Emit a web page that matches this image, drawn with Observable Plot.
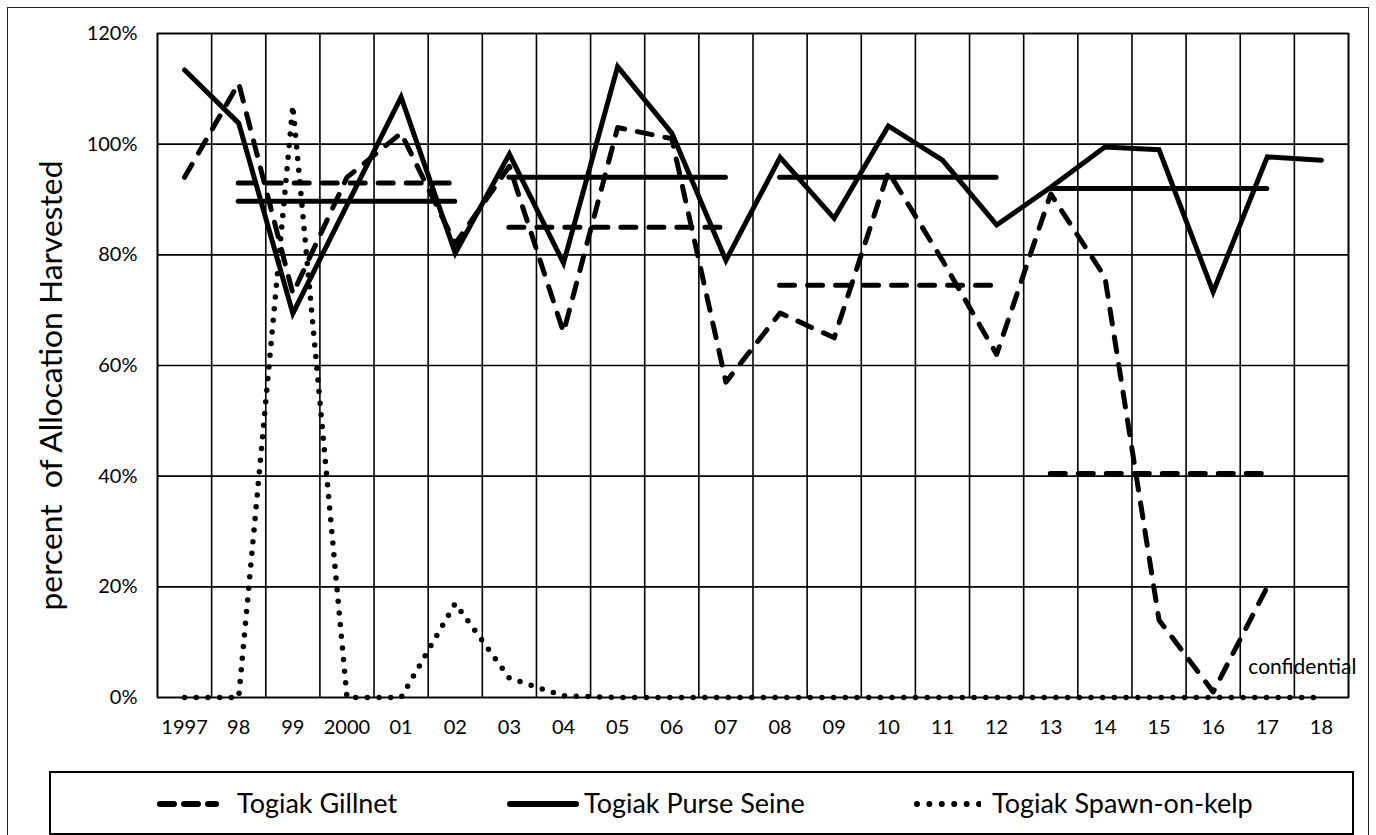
<!DOCTYPE html>
<html><head><meta charset="utf-8">
<script src="https://cdn.jsdelivr.net/npm/d3@7"></script>
<script src="https://cdn.jsdelivr.net/npm/@observablehq/plot@0.6"></script>
<style>
html,body{margin:0;padding:0;background:#fff;overflow:hidden;width:1376px;height:835px;font-family:Lato,"Open Sans",sans-serif;}
#frame{position:absolute;left:7px;top:7px;width:1362px;height:900px;border:1.5px solid #222;box-sizing:border-box;}
#chart{position:absolute;left:0;top:0;}
#legend{position:absolute;left:49px;top:771px;width:1305px;height:64px;border:2px solid #000;box-sizing:border-box;}
.sw{position:absolute;top:0;}
.lt{position:absolute;top:0;height:60px;line-height:60px;font-size:27px;color:#000;white-space:nowrap;}
</style></head><body>
<div id="frame"></div>
<div id="chart"></div>
<div id="legend"></div>
<script>
// ---- data ----
const years = [1997,1998,1999,2000,2001,2002,2003,2004,2005,2006,2007,2008,2009,2010,2011,2012,2013,2014,2015,2016,2017,2018];
const xLabels = ["1997","98","99","2000","01","02","03","04","05","06","07","08","09","10","11","12","13","14","15","16","17","18"];
const yTicks = [0,20,40,60,80,100,120];

// Togiak Gillnet, 1997-2017
const gillnet = [94,111,73,94,102,82,96,66,103,101,57,69.5,65,95,79,62,91,76,14,1,20];
// Togiak Purse Seine, 1997-2018
const purseSeine = [113.4,103.8,69.4,89,108.5,80.3,98.2,78.5,114,102,79,97.6,86.6,103.3,97.1,85.4,92.2,99.5,99,73.3,97.7,97.1];
// Togiak Spawn-on-kelp, 1997-2018
const spawnOnKelp = [0,0,107,0,0,17,3.5,0.3,0,0,0,0,0,0,0,0,0,0,0,0,0,0];

// five-year period averages
const periodStart = [1998,2003,2008,2013];
const periodEnd = [2002,2007,2012,2017];
const gillnetAvg = [93,85,74.5,40.5];
const purseAvg = [89.7,94,94,92];

const yLabel = "percent\u00a0\u00a0of Allocation Harvested";
const confidentialNote = {year: 2017, value: 0, label: "confidential"};

// ---- tables ----
const gillRows = gillnet.map((v,i)=>({year: years[i], value: v}));
const purseRows = purseSeine.map((v,i)=>({year: years[i], value: v}));
const spawnRows = spawnOnKelp.map((v,i)=>({year: years[i], value: v}));
const gillAvgRows = gillnetAvg.map((v,i)=>({start: periodStart[i], end: periodEnd[i], value: v}));
const purseAvgRows = purseAvg.map((v,i)=>({start: periodStart[i], end: periodEnd[i], value: v}));
const bandEdges = years.map(y=>y-0.5).concat([years[years.length-1]+0.5]);

const dash = "15,13";
const chart = Plot.plot({
  width: 1376, height: 760,
  marginLeft: 157, marginRight: 28, marginTop: 33, marginBottom: 63,
  style: {fontFamily: "Lato, 'Open Sans', sans-serif", fontSize: "20px", color: "#000", background: "transparent", overflow: "visible"},
  x: {type: "linear", domain: [bandEdges[0], bandEdges[bandEdges.length-1]]},
  y: {domain: [0, 120]},
  marks: [
    Plot.ruleY(yTicks, {stroke: "#000", strokeWidth: 1.6}),
    Plot.ruleX(bandEdges, {stroke: "#000", strokeWidth: 1.6}),
    Plot.frame({stroke: "#000", strokeWidth: 1.6}),
    Plot.axisY({ticks: yTicks, tickFormat: d => d + "%", tickSize: 0, tickPadding: 20, label: null, fill: "#000"}),
    Plot.axisX({ticks: years, tickFormat: d => xLabels[years.indexOf(d)], tickSize: 0, tickPadding: 22, label: null, fill: "#000"}),
    Plot.text([yLabel], {frameAnchor: "left", textAnchor: "middle", lineAnchor: "middle", rotate: -90, dx: -106, dy: 20, fontSize: 27, fill: "#000"}),
    // spawn-on-kelp
    Plot.line(spawnRows, {x: "year", y: "value", stroke: "#000", strokeWidth: 5.5, strokeDasharray: "0,11.7", strokeLinecap: "round"}),
    // averages
    Plot.ruleY(gillAvgRows, {x1: "start", x2: "end", y: "value", stroke: "#000", strokeWidth: 5, strokeDasharray: dash, strokeLinecap: "round"}),
    Plot.ruleY(purseAvgRows, {x1: "start", x2: "end", y: "value", stroke: "#000", strokeWidth: 5, strokeLinecap: "round"}),
    // gillnet
    Plot.line(gillRows, {x: "year", y: "value", stroke: "#000", strokeWidth: 5, strokeDasharray: dash, strokeLinecap: "round", strokeLinejoin: "round"}),
    // purse seine
    Plot.line(purseRows, {x: "year", y: "value", stroke: "#000", strokeWidth: 5, strokeLinejoin: "miter", strokeMiterlimit: 10, strokeLinecap: "round"}),
    Plot.text([confidentialNote], {x: "year", y: "value", text: "label", textAnchor: "start", dx: -19, dy: -30, fontSize: 21, fill: "#000"})
  ]
});
document.getElementById("chart").appendChild(chart);
// size the rotated y label so it spans the same length as in the original
chart.querySelectorAll("text").forEach(t => {
  if (t.textContent.startsWith("percent")) {
    const len = t.getComputedTextLength();
    if (len > 0) t.setAttribute("font-size", (27 * 450 / len).toFixed(2));
  }
});

// ---- legend ----
const legendItems = [
  {label: "Togiak Gillnet", kind: "dash", swLeft: 106, swWidth: 62, textLeft: 186},
  {label: "Togiak Purse Seine", kind: "solid", swLeft: 456, swWidth: 72, textLeft: 533},
  {label: "Togiak Spawn-on-kelp", kind: "dot", swLeft: 862, swWidth: 68, textLeft: 941}
];
const legend = d3.select("#legend");
legendItems.forEach(it => {
  const svg = legend.append("svg").attr("class", "sw").style("left", it.swLeft + "px").attr("width", it.swWidth).attr("height", 60);
  const cy = 31;
  if (it.kind === "dash") {
    svg.append("line").attr("x1", 3).attr("x2", it.swWidth - 3).attr("y1", cy).attr("y2", cy)
      .attr("stroke", "#000").attr("stroke-width", 6).attr("stroke-linecap", "round").attr("stroke-dasharray", "14,10");
  } else if (it.kind === "solid") {
    svg.append("line").attr("x1", 3).attr("x2", it.swWidth - 3).attr("y1", cy).attr("y2", cy)
      .attr("stroke", "#000").attr("stroke-width", 6).attr("stroke-linecap", "round");
  } else {
    svg.append("line").attr("x1", 4).attr("x2", it.swWidth - 2).attr("y1", cy).attr("y2", cy)
      .attr("stroke", "#000").attr("stroke-width", 6).attr("stroke-linecap", "round").attr("stroke-dasharray", "0,12.4");
  }
  legend.append("div").attr("class", "lt").style("left", it.textLeft + "px").text(it.label);
});
</script>
</body></html>
